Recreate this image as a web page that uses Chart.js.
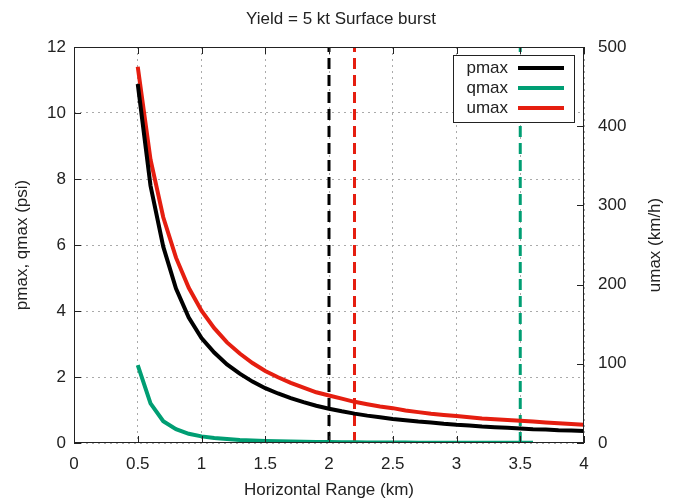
<!DOCTYPE html>
<html>
<head>
<meta charset="utf-8">
<script src="https://cdn.jsdelivr.net/npm/chart.js@4.4.1/dist/chart.umd.min.js"></script>
<style>
  html, body { margin: 0; padding: 0; background: #fff; }
</style>
</head>
<body>
<canvas id="blastChart" width="682" height="503"></canvas>
<script>
// horizontal range (km), sampled every 0.1 km
const rangeKm = [0.5, 0.6, 0.7, 0.8, 0.9, 1.0, 1.1, 1.2, 1.3, 1.4, 1.5, 1.6, 1.7, 1.8, 1.9, 2.0, 2.1, 2.2,
                 2.3, 2.4, 2.5, 2.6, 2.7, 2.8, 2.9, 3.0, 3.1, 3.2, 3.3, 3.4, 3.5, 3.6, 3.7, 3.8, 3.9, 4.0];

// peak overpressure (psi)
const pmaxPsi = [10.88, 7.8, 5.95, 4.68, 3.8, 3.18, 2.74, 2.38, 2.1, 1.86, 1.66, 1.5, 1.36, 1.24, 1.13, 1.04, 0.96, 0.89,
                 0.83, 0.78, 0.73, 0.69, 0.65, 0.62, 0.58, 0.55, 0.53, 0.5, 0.48, 0.46, 0.44, 0.42, 0.41, 0.39, 0.38, 0.36];

// peak dynamic pressure (psi), only plotted out to 3.6 km
const qmaxPsi = [2.36, 1.2, 0.66, 0.42, 0.28, 0.2, 0.15, 0.12, 0.09, 0.075, 0.06, 0.05, 0.045, 0.038, 0.032, 0.028,
                 0.024, 0.021, 0.018, 0.016, 0.014, 0.012, 0.011, 0.01, 0.009, 0.008, 0.008, 0.007, 0.007, 0.006, 0.006, 0.006];

// peak wind speed (km/h), right axis
const umaxKmh = [475, 358, 285, 234, 196, 167, 145, 127, 113, 101, 91, 83, 76, 70, 64, 60, 56, 52,
                 49, 46, 44, 41, 39, 37, 35.5, 34, 32.5, 31, 30, 29, 28, 27, 26, 25, 24, 23];

// dashed marker ranges (km): pmax, umax, qmax thresholds
const markerKm = [2.0, 2.2, 3.5];
const markerColors = ["#000000", "#e51e10", "#009e73"];

const seriesNames = ["pmax", "qmax", "umax"];
const seriesColors = ["#000000", "#009e73", "#e51e10"];

const FONT = "'Liberation Sans', Arial, sans-serif";
Chart.defaults.font.family = FONT;
Chart.defaults.font.size = 17;
Chart.defaults.color = "#222";

function toPoints(xs, ys) {
    return ys.map((y, i) => ({ x: xs[i], y: y }));
}

const curveSets = [
    { label: seriesNames[0], data: toPoints(rangeKm, pmaxPsi), yAxisID: "y", borderColor: seriesColors[0] },
    { label: seriesNames[1], data: toPoints(rangeKm, qmaxPsi), yAxisID: "y", borderColor: seriesColors[1] },
    { label: seriesNames[2], data: toPoints(rangeKm, umaxKmh), yAxisID: "y2", borderColor: seriesColors[2] }
].map(d => Object.assign(d, { borderWidth: 4, pointRadius: 0, tension: 0, fill: false }));

const markerSets = markerKm.map((km, i) => ({
    label: "marker" + i,
    data: [{ x: km, y: 0 }, { x: km, y: 12 }],
    yAxisID: "y",
    borderColor: markerColors[i],
    borderWidth: 3,
    borderDash: [11, 6],
    pointRadius: 0,
    fill: false
}));

// gnuplot style border, inward ticks, boxed key, right axis title
const gnuplotLook = {
    id: "gnuplotLook",
    afterDatasetsDraw(chart) {
        const { ctx, chartArea: a, scales } = chart;
        const tick = 7;
        ctx.save();
        ctx.strokeStyle = "#222";
        ctx.lineWidth = 1;

        ctx.beginPath();
        scales.x.ticks.forEach(t => {
            const px = Math.round(scales.x.getPixelForValue(t.value)) + 0.5;
            ctx.moveTo(px, a.bottom); ctx.lineTo(px, a.bottom - tick);
            ctx.moveTo(px, a.top); ctx.lineTo(px, a.top + tick);
        });
        scales.y.ticks.forEach(t => {
            const py = Math.round(scales.y.getPixelForValue(t.value)) + 0.5;
            ctx.moveTo(a.left, py); ctx.lineTo(a.left + tick, py);
        });
        scales.y2.ticks.forEach(t => {
            const py = Math.round(scales.y2.getPixelForValue(t.value)) + 0.5;
            ctx.moveTo(a.right, py); ctx.lineTo(a.right - tick, py);
        });
        ctx.stroke();
        ctx.strokeRect(Math.round(a.left) + 0.5, Math.round(a.top) + 0.5,
                       Math.round(a.width) - 1, Math.round(a.height) - 1);

        // key box
        const bx = a.right - 131, by = a.top + 8, bw = 121, bh = 67;
        ctx.fillStyle = "#fff";
        ctx.fillRect(bx, by, bw, bh);
        ctx.strokeRect(bx + 0.5, by + 0.5, bw, bh);
        ctx.font = "17px " + FONT;
        ctx.textAlign = "right";
        ctx.textBaseline = "middle";
        seriesNames.forEach((name, i) => {
            const ry = by + 13 + i * 20;
            ctx.fillStyle = "#222";
            ctx.fillText(name, bx + 55, ry);
            ctx.strokeStyle = seriesColors[i];
            ctx.lineWidth = 4;
            ctx.beginPath();
            ctx.moveTo(bx + 65, ry); ctx.lineTo(bx + 111, ry);
            ctx.stroke();
        });

        // right axis title reads bottom-to-top like the left one
        ctx.fillStyle = "#222";
        ctx.textAlign = "center";
        ctx.translate(655, (a.top + a.bottom) / 2);
        ctx.rotate(-Math.PI / 2);
        ctx.fillText("umax (km/h)", 0, 0);
        ctx.restore();
    }
};

const dotted = { color: "#aaa", lineWidth: 1, drawTicks: false };

new Chart(document.getElementById("blastChart"), {
    type: "line",
    data: { datasets: curveSets.concat(markerSets) },
    options: {
        responsive: false,
        animation: false,
        layout: { padding: 0 },
        plugins: {
            legend: { display: false },
            tooltip: { enabled: false },
            title: {
                display: true,
                text: "Yield = 5 kt Surface burst",
                font: { size: 17, weight: "normal" },
                color: "#222",
                padding: { top: 9, bottom: 17.6 }
            }
        },
        scales: {
            x: {
                type: "linear",
                min: 0, max: 4,
                ticks: { stepSize: 0.5, padding: 11, callback: v => String(Math.round(v * 10) / 10) },
                grid: dotted,
                border: { display: false, dash: [2, 4] },
                title: { display: true, text: "Horizontal Range (km)", padding: { top: 2, bottom: 2 } },
                afterFit: s => { s.height = 60; }
            },
            y: {
                position: "left",
                min: 0, max: 12,
                ticks: { stepSize: 2, padding: 8 },
                grid: dotted,
                border: { display: false, dash: [2, 4] },
                title: { display: true, text: "pmax, qmax (psi)", padding: { top: 12, bottom: 12 } },
                afterFit: s => { s.width = 74; }
            },
            y2: {
                position: "right",
                min: 0, max: 500,
                ticks: { stepSize: 100, padding: 14 },
                grid: { display: false, drawTicks: false },
                border: { display: false },
                afterFit: s => { s.width = 98; }
            }
        }
    },
    plugins: [gnuplotLook]
});
</script>
</body>
</html>
